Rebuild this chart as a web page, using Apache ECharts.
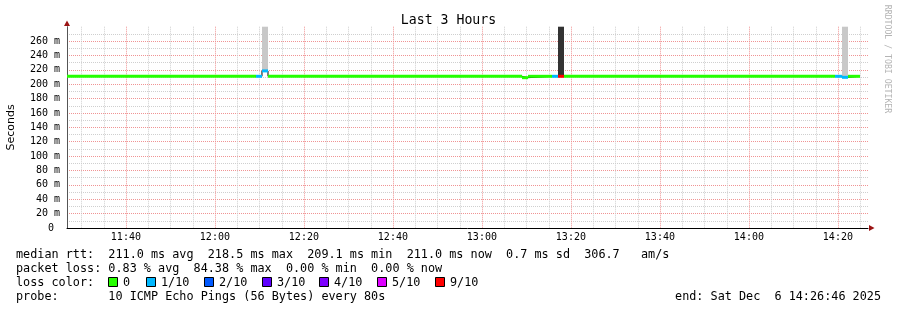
<!DOCTYPE html>
<html><head><meta charset="utf-8">
<script src="https://cdn.jsdelivr.net/npm/echarts@6/dist/echarts.min.js"></script>
<style>html,body{margin:0;padding:0;background:#fff}#c{width:897px;height:310px}</style>
</head><body><div id="c"></div>
<script>
// ---------- data ----------
const chartTitle = 'Last 3 Hours';
const yAxisName = 'Seconds';
const watermark = 'RRDTOOL / TOBI OETIKER';
const rangeStart = '11:26:46';
const rangeEnd = '14:26:46';
const yMax = 280;
const yTickStep = 20;
const xLabelTimes = ['11:40','12:00','12:20','12:40','13:00','13:20','13:40','14:00','14:20'];
const xMinorGridMinutes = 5;
const xMajorGridMinutes = 20;

// median rtt (ms) per step segment, colored by loss (x/10)
const segStart  = ['11:26:46','12:09:14','12:10:35','12:11:56','13:09:01','13:10:22','13:15:45','13:17:06','13:18:27','14:19:21','14:20:55','14:22:16'];
const segMedian = [211.0, 211.0, 218.5, 211.0, 209.1, 211.0, 211.0, 211.0, 211.0, 211.0, 209.6, 211.0];
const segLoss   = [0, 1, 1, 0, 0, 0, 1, 9, 0, 1, 1, 0];
const segSmokeTop   = [null, null, 280, null, null, null, null, 280, null, null, 280, null];
const segSmokeShade = [null, null, 'light', null, null, null, null, 'dark', null, null, 'light', null];
const dataEnd = '14:24:58';

const lossLevels = [0, 1, 2, 3, 4, 5, 9];
const lossLabels = ['0', '1/10', '2/10', '3/10', '4/10', '5/10', '9/10'];
const lossColors = ['#26ff00', '#00b8ff', '#0059ff', '#5e00ff', '#7e00ff', '#dd00ff', '#ff0000'];
const smokeColors = { light: '#c8c8c8', dark: '#333333' };

const legendLine1 = 'median rtt:  211.0 ms avg  218.5 ms max  209.1 ms min  211.0 ms now  0.7 ms sd  306.7   am/s';
const legendLine2 = 'packet loss: 0.83 % avg  84.38 % max  0.00 % min  0.00 % now';
const legendLine3 = 'loss color:';
const legendLine4 = 'probe:       10 ICMP Echo Pings (56 Bytes) every 80s';
const endLine = 'end: Sat Dec  6 14:26:46 2025';

// ---------- helpers ----------
const toSec = s => { const p = s.split(':').map(Number); return p[0] * 3600 + p[1] * 60 + (p[2] || 0); };
const pad = n => String(n).padStart(2, '0');
const fmtHM = v => pad(Math.floor(v / 3600)) + ':' + pad(Math.floor((v % 3600) / 60));
const lossColor = l => lossColors[lossLevels.indexOf(l)];

const xMin = toSec(rangeStart), xMax = toSec(rangeEnd);
const xLabelValues = xLabelTimes.map(toSec);
const vGrid = [];
for (let t = Math.ceil(xMin / (xMinorGridMinutes * 60)) * xMinorGridMinutes * 60; t < xMax; t += xMinorGridMinutes * 60) {
  vGrid.push([t, 0, t % (xMajorGridMinutes * 60) === 0 ? 1 : 0]);
}
const segEnds = segStart.map((s, i) => i + 1 < segStart.length ? toSec(segStart[i + 1]) : toSec(dataEnd));
const bandRows = segStart.map((s, i) => [toSec(s), segEnds[i], segMedian[i], segLoss[i]]);
const smokeRows = [];
segStart.forEach((s, i) => { if (segSmokeTop[i] != null) smokeRows.push([toSec(s), segEnds[i], segMedian[i], segSmokeTop[i], segSmokeShade[i] === 'dark' ? 1 : 0]); });
const medianPts = segStart.map((s, i) => [toSec(s), segMedian[i]]).concat([[toSec(dataEnd), segMedian[segMedian.length - 1]]]);

const MONO = 'DejaVu Sans Mono';
const LFS = 11.8;
const MAJOR = '#f09494';
const MINOR = '#cfcfcf';

// legend graphics
const graphics = [
  { type: 'text', x: 16, y: 255, style: { text: legendLine1, font: LFS + 'px "' + MONO + '"', fill: '#000', verticalAlign: 'middle' } },
  { type: 'text', x: 16, y: 269, style: { text: legendLine2, font: LFS + 'px "' + MONO + '"', fill: '#000', verticalAlign: 'middle' } },
  { type: 'text', x: 16, y: 283, style: { text: legendLine3, font: LFS + 'px "' + MONO + '"', fill: '#000', verticalAlign: 'middle' } },
  { type: 'text', x: 16, y: 297, style: { text: legendLine4, font: LFS + 'px "' + MONO + '"', fill: '#000', verticalAlign: 'middle' } },
  { type: 'text', x: 881, y: 297, style: { text: endLine, font: LFS + 'px "' + MONO + '"', fill: '#000', align: 'right', verticalAlign: 'middle' } },
  { type: 'text', x: 887, y: 59, rotation: -Math.PI / 2, style: { text: watermark, font: '8.2px "' + MONO + '"', fill: '#b4b4b4', align: 'center', verticalAlign: 'middle' } },
  { type: 'polygon', shape: { points: [[64, 26], [70, 26], [67, 20.5]] }, style: { fill: '#9b1414' } },
  { type: 'polygon', shape: { points: [[869, 225], [869, 231], [874.5, 228]] }, style: { fill: '#9b1414' } }
];
const squareX = [108, 146, 204, 262, 319, 377, 435];
lossLabels.forEach((lab, i) => {
  graphics.push({ type: 'rect', shape: { x: squareX[i] + 0.5, y: 277.5, width: 9, height: 9 }, style: { fill: lossColors[i], stroke: '#000', lineWidth: 1 } });
  graphics.push({ type: 'text', x: squareX[i] + 15, y: 283, style: { text: lab, font: LFS + 'px "' + MONO + '"', fill: '#000', verticalAlign: 'middle' } });
});

const chart = echarts.init(document.getElementById('c'), null, { renderer: 'canvas' });
chart.setOption({
  animation: false,
  backgroundColor: '#ffffff',
  title: { text: chartTitle, left: 'center', top: 9, textStyle: { fontFamily: MONO, fontSize: 13.2, fontWeight: 'normal', color: '#000' } },
  grid: { left: 67, right: 29, top: 26.7, bottom: 82, outerBoundsMode: 'none' },
  xAxis: {
    type: 'value', min: xMin, max: xMax,
    axisLine: { show: true, onZero: false, lineStyle: { color: '#000', width: 1 } },
    axisTick: { show: false },
    axisLabel: { customValues: xLabelValues, formatter: fmtHM, margin: 4, fontFamily: MONO, fontSize: 10, color: '#000' },
    splitLine: { show: false }
  },
  yAxis: {
    type: 'value', min: 0, max: yMax, interval: yTickStep,
    name: yAxisName, nameLocation: 'middle', nameGap: 50,
    nameTextStyle: { fontFamily: 'DejaVu Sans', fontSize: 11, color: '#000' },
    axisLine: { show: true, lineStyle: { color: '#555', width: 1 } },
    axisTick: { show: false },
    axisLabel: { showMaxLabel: false, margin: 7, fontFamily: MONO, fontSize: 10, color: '#000', formatter: v => v === 0 ? '0 ' : v + ' m' },
    splitLine: { show: true, showMinLine: false, showMaxLine: false, lineStyle: { color: MAJOR, type: [1, 1], width: 1 } },
    minorTick: { show: false, splitNumber: 2 },
    minorSplitLine: { show: true, lineStyle: { color: MINOR, type: [1, 1], width: 1 } }
  },
  graphic: graphics,
  series: [
    {
      type: 'custom', name: 'vgrid', z: 1, silent: true, data: vGrid, encode: { x: 0, y: 1 },
      renderItem: (params, api) => {
        const cs = params.coordSys;
        const p = api.coord([api.value(0), 0]);
        const x = Math.round(p[0]) + 0.5;
        return { type: 'line', shape: { x1: x, y1: cs.y, x2: x, y2: cs.y + cs.height },
          style: { stroke: api.value(2) ? MAJOR : MINOR, lineWidth: 1, lineDash: [1, 1] } };
      }
    },
    {
      type: 'custom', name: 'smoke', z: 2, silent: true, data: smokeRows, encode: { x: [0, 1], y: [2, 3] },
      renderItem: (params, api) => {
        const a = api.coord([api.value(0), api.value(3)]);
        const b = api.coord([api.value(1), api.value(2)]);
        return { type: 'rect', shape: { x: a[0], y: a[1], width: b[0] - a[0], height: b[1] - a[1] },
          style: { fill: api.value(4) ? smokeColors.dark : smokeColors.light } };
      }
    },
    {
      type: 'line', name: 'median', z: 3, step: 'end', data: medianPts, symbol: 'none', silent: true,
      lineStyle: { color: '#000', width: 1 }
    },
    {
      type: 'custom', name: 'loss', z: 4, silent: true, data: bandRows, encode: { x: [0, 1], y: 2 },
      renderItem: (params, api) => {
        const a = api.coord([api.value(0), api.value(2)]);
        const b = api.coord([api.value(1), api.value(2)]);
        return { type: 'rect', shape: { x: a[0], y: a[1] - 1.5, width: b[0] - a[0], height: 3 },
          style: { fill: lossColor(api.value(3)) } };
      }
    }
  ]
});
</script>
</body></html>
